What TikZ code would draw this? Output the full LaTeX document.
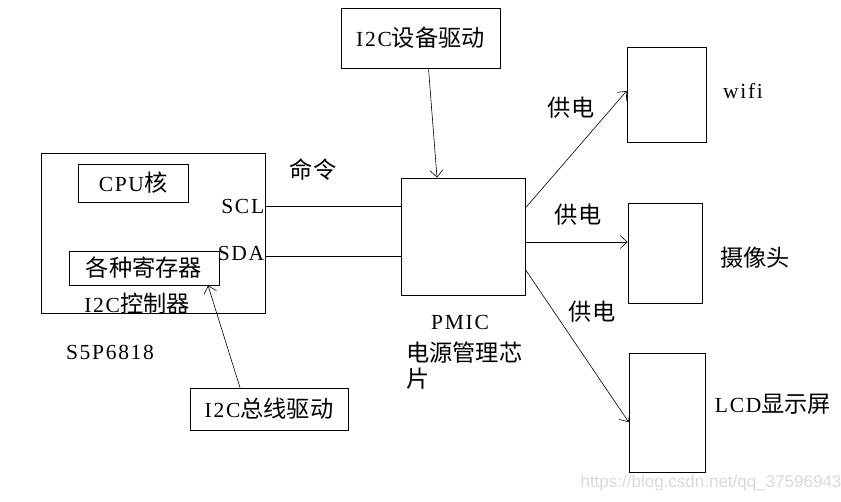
\documentclass[tikz,border=0pt]{standalone}
\usepackage{fontspec}
\setmainfont{Liberation Serif}[LetterSpace=8]
\newfontfamily\cjk{Noto Sans CJK SC}[Scale=1.08]
\newfontfamily\marksans{Liberation Sans}
\usetikzlibrary{arrows.meta,positioning}
\newcommand{\zh}[1]{{\cjk #1}}

\begin{document}
\begin{tikzpicture}[x=1pt,y=-1pt,
  every node/.style={font=\fontsize{21.5}{26}\selectfont},
  box/.style={draw,line width=0.8pt,inner sep=0pt},
  wire/.style={line width=0.6pt},
  feed/.style={wire,-{Straight Barb[length=7pt,width=13pt]}}]
  \useasboundingbox (0,0) rectangle (841,501);
  % --- S5P6818 ---
  \node[box,minimum width=224pt,minimum height=160pt] (soc) at (153,233) {};
  \node[box,minimum width=110pt,minimum height=38pt] (cpu) at (133,183) {CPU\zh{核}};
  \node[box,minimum width=150pt,minimum height=34pt] (regs) at (144,268) {\zh{各种寄存器}};
  \node (ctrl) at (137,304) {I2C\zh{控制器}};
  \node[anchor=east,inner sep=1pt] (scl) at (soc.east |- 0,206) {SCL};
  \node[anchor=east,inner sep=1pt] (sda) at (soc.east |- 0,253) {SDA};
  \node (socname) at (110,352) {S5P6818};
  % --- drivers ---
  \node[box,minimum width=159pt,minimum height=60pt] (devdrv) at (420.5,38) {I2C\zh{设备驱动}};
  \node[box,minimum width=158pt,minimum height=42pt] (busdrv) at (269,409) {I2C\zh{总线驱动}};
  % --- PMIC ---
  \node[box,minimum width=124pt,minimum height=117pt] (pmic) at (463,236.5) {};
  \node (pmicname) at (460,322) {PMIC};
  \node[anchor=north west,align=left,inner sep=0pt] (pmicdesc) at (406,342)
       {\zh{电源管理芯}\\\zh{片}};
  \node (cmd) at (313,170) {\zh{命令}};
  % --- loads ---
  \node[box,minimum width=79pt,minimum height=95pt] (wifi) at (666.5,94.5) {};
  \node[box,minimum width=74pt,minimum height=100pt] (cam) at (665,253) {};
  \node[box,minimum width=76pt,minimum height=119pt] (lcd) at (667,412.5) {};
  \node (wifiname) at (743,91) {wifi};
  \node (camname) at (755,258) {\zh{摄像头}};
  \node (lcdname) at (773,404) {LCD\zh{显示屏}};
  \node (pw1) at (571,108) {\zh{供电}};
  \node (pw2) at (578,215) {\zh{供电}};
  \node (pw3) at (592,312) {\zh{供电}};
  % bus lines
  \draw[wire] (scl.east) -- (scl.east -| pmic.west);
  \draw[wire] ([yshift=-3pt]sda.east) -- ([yshift=-3pt]sda.east -| pmic.west);
  % driver arrows
  \draw[feed] ([xshift=8pt]devdrv.south) -- ([xshift=-26pt]pmic.north);
  \draw[feed] ([xshift=-29pt]busdrv.north) -- ([xshift=64pt]regs.south);
  % power arrows
  \draw[feed] ([yshift=28.5pt]pmic.east) -- ([yshift=3.5pt]wifi.west);
  \draw[feed] ([yshift=-5.5pt]pmic.east) -- ([yshift=-5.5pt]pmic.east -| cam.west);
  \draw[feed] ([yshift=-33pt]pmic.east) -- ([yshift=-9.5pt]lcd.west);
  % watermark
  \node[text=gray!30,font=\marksans\fontsize{17}{20}\selectfont] (mark) at (711,483)
       {https://blog.csdn.net/qq\_37596943};
\end{tikzpicture}
\end{document}
